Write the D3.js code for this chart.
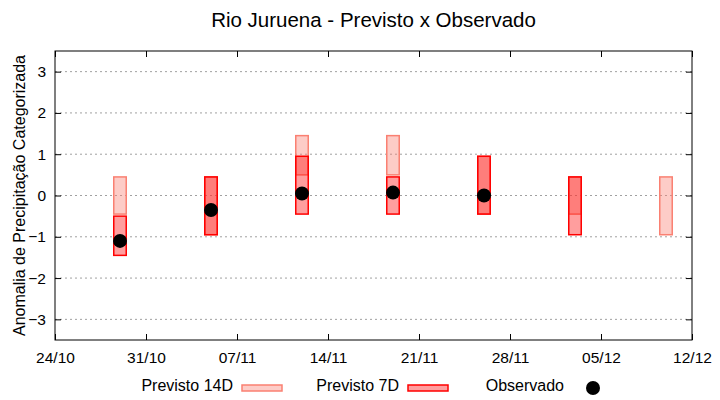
<!DOCTYPE html>
<html lang="pt">
<head>
<meta charset="utf-8">
<title>Rio Juruena - Previsto x Observado</title>
<script src="https://d3js.org/d3.v7.min.js"></script>
<style>
  body { margin: 0; padding: 0; background: #fff; }
  text { font-family: 'Liberation Sans', Arial, sans-serif; fill: #000; }
</style>
</head>
<body>
<div id="chart"></div>
<script>
// datas de cada previsao (semanas)
var datas = ["2020-10-29", "2020-11-05", "2020-11-12", "2020-11-19", "2020-11-26", "2020-12-03", "2020-12-10"];

// previsto 14 dias: limites inferior / superior
var prev14Min = [-0.45, -0.95, 0.5, 0.5, -0.45, -0.45, -0.95];
var prev14Max = [0.45, 0.45, 1.45, 1.45, 0.95, 0.45, 0.45];

// previsto 7 dias
var prev7Min = [-1.45, -0.95, -0.45, -0.45, -0.45, -0.95, null];
var prev7Max = [-0.5, 0.45, 0.95, 0.45, 0.95, 0.45, null];

// observado
var observado = [-1.1, -0.35, 0.05, 0.07, 0.0, null, null];

// eixos
var xTicks = ["2020-10-24", "2020-10-31", "2020-11-07", "2020-11-14", "2020-11-21", "2020-11-28", "2020-12-05", "2020-12-12"];
var yTicks = [-3, -2, -1, 0, 1, 2, 3];

var W = 720, H = 400;
var margin = {top: 51, right: 28, bottom: 60, left: 55};
var width = W - margin.left - margin.right,
    height = H - margin.top - margin.bottom;

var parse = d3.utcParse("%Y-%m-%d");
var fmt = d3.utcFormat("%d/%m");

var svg = d3.select("#chart").append("svg")
    .attr("width", W)
    .attr("height", H);

var g = svg.append("g")
    .attr("transform", "translate(" + margin.left + "," + margin.top + ")");

var x = d3.scaleUtc()
    .domain([parse(xTicks[0]), parse(xTicks[xTicks.length - 1])])
    .range([0, width]);

var y = d3.scaleLinear()
    .domain([-3.5, 3.5])
    .range([height, 0]);

// grade horizontal pontilhada
g.selectAll(".grid")
  .data(yTicks)
  .enter().append("line")
    .attr("x1", 0).attr("x2", width)
    .attr("y1", function(d) { return y(d); })
    .attr("y2", function(d) { return y(d); })
    .attr("stroke", "#a0a0a0")
    .attr("stroke-width", 1)
    .attr("stroke-dasharray", "2,3");

// eixos (ticks para dentro, espelhados)
var tickLen = 6;
var xAxis = g.append("g")
    .attr("transform", "translate(0," + height + ")")
    .call(d3.axisBottom(x).tickValues(xTicks.map(parse)).tickFormat(fmt)
      .tickSizeInner(-tickLen).tickSizeOuter(0).tickPadding(tickLen + 6));
var xAxisTop = g.append("g")
    .call(d3.axisTop(x).tickValues(xTicks.map(parse)).tickFormat("")
      .tickSizeInner(-tickLen).tickSizeOuter(0));
var yAxis = g.append("g")
    .call(d3.axisLeft(y).tickValues(yTicks).tickFormat(d3.format("d"))
      .tickSizeInner(-tickLen).tickSizeOuter(0).tickPadding(tickLen + 3));
var yAxisRight = g.append("g")
    .attr("transform", "translate(" + width + ",0)")
    .call(d3.axisRight(y).tickValues(yTicks).tickFormat("")
      .tickSizeInner(-tickLen).tickSizeOuter(0));

[xAxis, xAxisTop, yAxis, yAxisRight].forEach(function(a) {
  a.select(".domain").remove();
  a.selectAll("line").attr("stroke", "#000");
  a.selectAll("text")
    .style("font-family", "'Liberation Sans', Arial, sans-serif")
    .style("font-size", "15.5px")
    .attr("fill", "#000");
});

// caixa
g.append("rect")
    .attr("x", 0).attr("y", 0)
    .attr("width", width).attr("height", height)
    .attr("fill", "none")
    .attr("stroke", "#000")
    .attr("stroke-width", 1);

var halfDay = 0.48 * 24 * 3600 * 1000;
function barX(d) { return x(new Date(parse(d).getTime() - halfDay)); }
function barW(d) { return x(new Date(parse(d).getTime() + halfDay)) - barX(d); }

// previsto 14D
g.selectAll(".p14")
  .data(datas.map(function(d, i) { return {d: d, lo: prev14Min[i], hi: prev14Max[i]}; })
    .filter(function(o) { return o.lo != null; }))
  .enter().append("rect")
    .attr("class", "p14")
    .attr("x", function(o) { return barX(o.d); })
    .attr("width", function(o) { return barW(o.d); })
    .attr("y", function(o) { return y(o.hi); })
    .attr("height", function(o) { return y(o.lo) - y(o.hi); })
    .attr("fill", "#fa8072")
    .attr("fill-opacity", 0.4)
    .attr("stroke", "#fa8072")
    .attr("stroke-width", 1.5);

// previsto 7D
g.selectAll(".p7")
  .data(datas.map(function(d, i) { return {d: d, lo: prev7Min[i], hi: prev7Max[i]}; })
    .filter(function(o) { return o.lo != null; }))
  .enter().append("rect")
    .attr("class", "p7")
    .attr("x", function(o) { return barX(o.d); })
    .attr("width", function(o) { return barW(o.d); })
    .attr("y", function(o) { return y(o.hi); })
    .attr("height", function(o) { return y(o.lo) - y(o.hi); })
    .attr("fill", "#ff0000")
    .attr("fill-opacity", 0.38)
    .attr("stroke", "#ff0000")
    .attr("stroke-width", 1.5);

// observado
g.selectAll(".obs")
  .data(datas.map(function(d, i) { return {d: d, v: observado[i]}; })
    .filter(function(o) { return o.v != null; }))
  .enter().append("circle")
    .attr("cx", function(o) { return x(parse(o.d)); })
    .attr("cy", function(o) { return y(o.v); })
    .attr("r", 7)
    .attr("fill", "#000");

// titulo
svg.append("text")
    .attr("x", margin.left + width / 2)
    .attr("y", 27)
    .attr("text-anchor", "middle")
    .style("font-size", "20.5px")
    .text("Rio Juruena - Previsto x Observado");

// rotulo eixo y
svg.append("text")
    .attr("transform", "translate(25," + (margin.top + height / 2) + ") rotate(-90)")
    .attr("text-anchor", "middle")
    .style("font-size", "16px")
    .text("Anomalia de Precipitação Categorizada");

// legenda
var leg = svg.append("g").style("font-size", "16px");
leg.append("text").attr("x", 233).attr("y", 391).attr("text-anchor", "end").text("Previsto 14D");
leg.append("rect").attr("x", 242).attr("y", 385).attr("width", 40).attr("height", 6)
    .attr("fill", "#fa8072").attr("fill-opacity", 0.4).attr("stroke", "#fa8072").attr("stroke-width", 1.5);
leg.append("text").attr("x", 399).attr("y", 391).attr("text-anchor", "end").text("Previsto 7D");
leg.append("rect").attr("x", 408).attr("y", 385).attr("width", 40).attr("height", 6)
    .attr("fill", "#ff0000").attr("fill-opacity", 0.38).attr("stroke", "#ff0000").attr("stroke-width", 1.5);
leg.append("text").attr("x", 564).attr("y", 391).attr("text-anchor", "end").text("Observado");
leg.append("circle").attr("cx", 593).attr("cy", 388).attr("r", 7).attr("fill", "#000");
</script>
</body>
</html>
